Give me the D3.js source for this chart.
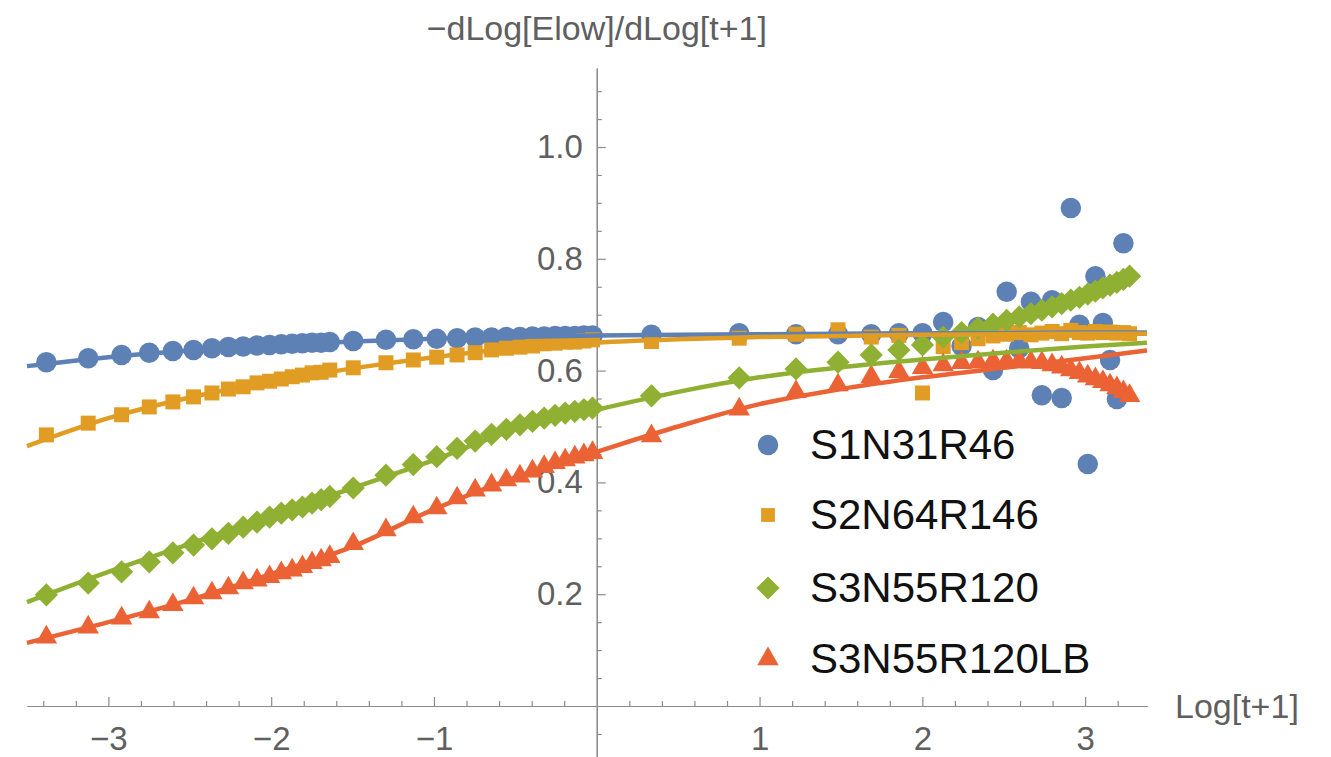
<!DOCTYPE html>
<html>
<head>
<meta charset="utf-8">
<script src="https://cdn.jsdelivr.net/npm/d3@7"></script>
<style>
  body { margin: 0; background: #fff; }
  svg { display: block; font-family: "Liberation Sans", Arial, sans-serif; }
  .axis path, .axis line { stroke: #8c8c8c; stroke-width: 1.2; }
  .axis text { fill: #5f5f5f; font-size: 33px; font-family: "Liberation Sans", Arial, sans-serif; }
</style>
</head>
<body>
<div id="chart-area"></div>
<script>
const W = 1331, H = 757;

// x positions of the samples, Log[t+1]
const logT = [
  -3.381, -3.124, -2.919, -2.749, -2.604, -2.477, -2.364, -2.263, -2.172, -2.087,
  -2.010, -1.938, -1.871, -1.808, -1.749, -1.693, -1.640,
  -1.496, -1.295, -1.127, -0.983, -0.858, -0.747, -0.646, -0.555, -0.472, -0.395,
  -0.323, -0.256, -0.194, -0.135, -0.079, -0.026,
  0.336, 0.875, 1.224, 1.482, 1.686, 1.856, 2.001, 2.128, 2.241, 2.342,
  2.434, 2.518, 2.595, 2.667, 2.734, 2.797, 2.856, 2.912, 2.965, 3.016,
  3.063, 3.109, 3.153, 3.195, 3.235, 3.273
];

const seriesNames = ["S1N31R46", "S2N64R146", "S3N55R120", "S3N55R120LB"];
const seriesColors = ["#5e81b5", "#e19c24", "#8fb032", "#eb6235"];

const s1Vals = [
  0.615, 0.622, 0.628, 0.632, 0.635, 0.637, 0.640, 0.642, 0.643, 0.645,
  0.646, 0.647, 0.648, 0.649, 0.650, 0.650, 0.651,
  0.653, 0.655, 0.656, 0.657, 0.658, 0.659, 0.659, 0.660, 0.660, 0.661,
  0.661, 0.662, 0.662, 0.662, 0.663, 0.663,
  0.664, 0.667, 0.665, 0.665, 0.665, 0.667, 0.667, 0.687, 0.644, 0.678,
  0.601, 0.741, 0.640, 0.723, 0.556, 0.726, 0.551, 0.891, 0.682, 0.433,
  0.769, 0.685, 0.619, 0.549, 0.828, null
];
const s2Vals = [
  0.485, 0.506, 0.521, 0.535, 0.544, 0.553, 0.560, 0.567, 0.571, 0.578,
  0.581, 0.585, 0.589, 0.592, 0.596, 0.597, 0.601,
  0.605, 0.614, 0.619, 0.624, 0.628, 0.632, 0.637, 0.640, 0.642, 0.644,
  0.648, 0.649, 0.651, 0.651, 0.653, 0.655,
  0.652, 0.658, 0.665, 0.673, 0.660, 0.663, 0.560, 0.643, 0.650, 0.657,
  0.662, 0.665, 0.668, 0.664, 0.667, 0.670, 0.666, 0.672, 0.668, 0.667,
  0.670, 0.668, 0.669, 0.667, 0.668, 0.666
];
const s3Vals = [
  0.199, 0.220, 0.240, 0.258, 0.274, 0.288, 0.299, 0.309, 0.320, 0.329,
  0.338, 0.345, 0.351, 0.356, 0.363, 0.369, 0.375,
  0.390, 0.413, 0.432, 0.446, 0.461, 0.474, 0.486, 0.495, 0.503, 0.509,
  0.515, 0.520, 0.524, 0.527, 0.530, 0.533,
  0.555, 0.587, 0.603, 0.615, 0.628, 0.637, 0.646, 0.660, 0.668, 0.676,
  0.683, 0.690, 0.696, 0.702, 0.708, 0.714, 0.720, 0.726, 0.731, 0.737,
  0.742, 0.748, 0.753, 0.758, 0.763, 0.769
];
const s4Vals = [
  0.123, 0.141, 0.157, 0.168, 0.181, 0.193, 0.202, 0.211, 0.220, 0.225,
  0.231, 0.238, 0.243, 0.249, 0.256, 0.261, 0.267,
  0.290, 0.315, 0.338, 0.354, 0.372, 0.386, 0.395, 0.404, 0.411, 0.420,
  0.428, 0.435, 0.440, 0.445, 0.449, 0.453,
  0.483, 0.531, 0.562, 0.574, 0.589, 0.598, 0.605, 0.610, 0.614, 0.615,
  0.617, 0.617, 0.617, 0.615, 0.614, 0.610, 0.606, 0.601, 0.596, 0.590,
  0.585, 0.580, 0.574, 0.569, 0.562, 0.555
];

// fitted curves, read at these x
const fitX = [-3.5, -3, -2.5, -2, -1.5, -1, -0.5, 0, 0.5, 1, 1.5, 2, 2.5, 3, 3.38];
const s1Fit = [0.608, 0.624, 0.636, 0.645, 0.652, 0.657, 0.660, 0.663, 0.664, 0.665, 0.666, 0.667, 0.667, 0.668, 0.668];
const s2Fit = [0.465, 0.515, 0.552, 0.580, 0.604, 0.624, 0.640, 0.650, 0.656, 0.660, 0.662, 0.664, 0.665, 0.666, 0.666];
const s3Fit = [0.186, 0.240, 0.290, 0.340, 0.390, 0.440, 0.495, 0.530, 0.562, 0.588, 0.606, 0.620, 0.632, 0.643, 0.650];
const s4Fit = [0.113, 0.150, 0.190, 0.236, 0.285, 0.352, 0.409, 0.455, 0.500, 0.540, 0.567, 0.588, 0.605, 0.622, 0.636];

const xMajor = [-3, -2, -1, 1, 2, 3];
const yMajor = [0.2, 0.4, 0.6, 0.8, 1.0];

const allVals = [s1Vals, s2Vals, s3Vals, s4Vals];
const allFits = [s1Fit, s2Fit, s3Fit, s4Fit];

const svg = d3.select("#chart-area")
  .append("svg")
    .attr("width", W)
    .attr("height", H);

const x = d3.scaleLinear().domain([-3.5, 3.38]).range([27, 1147]);
const y = d3.scaleLinear().domain([-0.0912, 1.1413]).range([757, 68]);

// axes
const xMinor = d3.range(-3.4, 3.3, 0.2).filter(v => Math.abs(v - Math.round(v)) > 0.05);
const yMinor = d3.range(-0.05, 1.12, 0.05).filter(v => Math.abs(v * 5 - Math.round(v * 5)) > 0.05);

svg.append("g")
  .attr("class", "axis")
  .attr("transform", "translate(0," + y(0) + ")")
  .call(d3.axisBottom(x).tickValues(xMinor).tickSize(-5).tickSizeOuter(0).tickFormat(""));
svg.append("g")
  .attr("class", "axis")
  .attr("transform", "translate(0," + y(0) + ")")
  .call(d3.axisBottom(x).tickValues(xMajor).tickSize(-9).tickSizeOuter(0).tickPadding(21)
    .tickFormat(d => d < 0 ? "\u2212" + Math.abs(d) : d));

svg.append("g")
  .attr("class", "axis")
  .attr("transform", "translate(" + x(0) + ",0)")
  .call(d3.axisLeft(y).tickValues(yMinor).tickSize(-5).tickSizeOuter(0).tickFormat(""));
svg.append("g")
  .attr("class", "axis")
  .attr("transform", "translate(" + x(0) + ",0)")
  .call(d3.axisLeft(y).tickValues(yMajor).tickSize(-9).tickSizeOuter(0).tickPadding(14)
    .tickFormat(d3.format(".1f")));

// axis labels
svg.append("text")
  .attr("x", x(0))
  .attr("y", 40)
  .attr("text-anchor", "middle")
  .attr("font-size", "34px")
  .attr("fill", "#5f5f5f")
  .text("\u2212dLog[Elow]/dLog[t+1]");

svg.append("text")
  .attr("x", 1175)
  .attr("y", 718)
  .attr("font-size", "34px")
  .attr("fill", "#5f5f5f")
  .text("Log[t+1]");

// marker shapes
const shapes = [
  { type: d3.symbolCircle, size: 330, rot: 0 },
  { type: d3.symbolSquare, size: 225, rot: 0 },
  { type: d3.symbolSquare, size: 270, rot: 45 },
  { type: d3.symbolTriangle, size: 200, rot: 0 }
];

// points
allVals.forEach((vals, i) => {
  const pts = logT.map((t, j) => ({ t: t, v: vals[j] })).filter(d => d.v != null);
  svg.append("g")
    .selectAll("path")
    .data(pts)
    .enter()
    .append("path")
      .attr("d", d3.symbol().type(shapes[i].type).size(shapes[i].size))
      .attr("transform", d => "translate(" + x(d.t) + "," + y(d.v) + ") rotate(" + shapes[i].rot + ")")
      .attr("fill", seriesColors[i]);
});

// fitted lines
const line = d3.line()
  .x(d => x(d[0]))
  .y(d => y(d[1]))
  .curve(d3.curveMonotoneX);

allFits.forEach((fit, i) => {
  svg.append("path")
    .datum(fitX.map((t, j) => [t, fit[j]]))
    .attr("d", line)
    .attr("fill", "none")
    .attr("stroke", seriesColors[i])
    .attr("stroke-width", 4.5);
});

// legend
const legendY = [445, 515, 588, 659];
const legend = svg.append("g");
seriesNames.forEach((name, i) => {
  legend.append("path")
    .attr("d", d3.symbol().type(shapes[i].type).size(shapes[i].size * (i === 1 ? 0.85 : 1))())
    .attr("transform", "translate(768," + legendY[i] + ") rotate(" + shapes[i].rot + ")")
    .attr("fill", seriesColors[i]);
  legend.append("text")
    .attr("x", 810)
    .attr("y", legendY[i] + 14)
    .attr("font-size", "42px")
    .attr("fill", "#111")
    .text(name);
});
</script>
</body>
</html>
